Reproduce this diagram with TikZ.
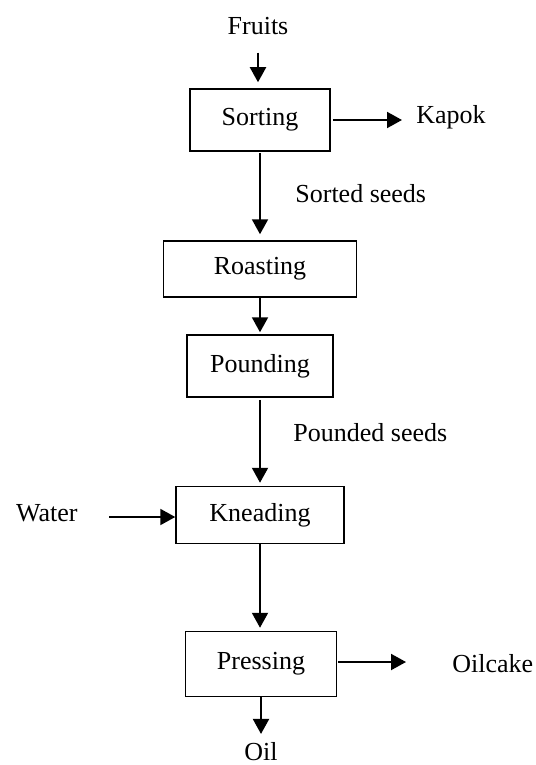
\documentclass[tikz,border=0pt]{standalone}
\usepackage{fontspec}
\setmainfont{Liberation Serif}
\usetikzlibrary{arrows.meta}

\tikzset{
  stepbox/.style={draw, line width=0.75pt, inner sep=0pt},
  label/.style={inner sep=2pt},
  arr/.style={line width=1pt, -{Triangle[length=7.5pt, width=8pt]}}
}

\begin{document}
\begin{tikzpicture}[x=0.5pt, y=-0.5pt, font=\fontsize{13}{15}\selectfont]
      \clip (0,0) rectangle (535,765);

      \node[label] (fruits) at (258,26.5) {Fruits};
      \node[stepbox, minimum width=70pt, minimum height=31pt] (sorting) at (260,120) {Sorting};
      \node[label, anchor=west] (kapok) at (412,117) {Kapok};
      \node[label, anchor=west] (sorted) at (291,194) {Sorted seeds};
      \node[stepbox, minimum width=96.5pt, minimum height=28pt] (roasting) at (260,269) {Roasting};
      \node[stepbox, minimum width=73pt, minimum height=31pt] (pounding) at (260,366) {Pounding};
      \node[label, anchor=west] (pounded) at (289,433) {Pounded seeds};
      \node[stepbox, minimum width=84pt, minimum height=28.5pt] (kneading) at (260,515) {Kneading};
      \node[label, anchor=east] (water) at (82,513) {Water};
      \node[stepbox, minimum width=75.5pt, minimum height=32.5pt] (pressing) at (261,664) {Pressing};
      \node[label, anchor=west] (oilcake) at (448,664) {Oilcake};
      \node[label] (oil) at (261,751.5) {Oil};

      \draw[arr, shorten <=6.5pt, shorten >=3pt] (fruits.south) -- (fruits.south |- sorting.north);
      \draw[arr, shorten <=1pt, shorten >=5pt] (sorting.east) -- (sorting.east -| kapok.west);
      \draw[arr, shorten <=0.5pt, shorten >=3pt] (sorting) -- (roasting);
      \draw[arr, shorten >=1pt] (roasting) -- (pounding);
      \draw[arr, shorten <=1pt, shorten >=1.5pt] (pounding) -- (kneading);
      \draw[arr, shorten <=13.5pt] (water.east |- 0,517) -- (kneading.west |- 0,517);
      \draw[arr, shorten >=1.5pt] (kneading.south) -- (kneading.south |- pressing.north);
      \draw[arr, shorten <=0.5pt, shorten >=21pt] (pressing.east |- 0,662) -- (oilcake.west |- 0,662);
      \draw[arr, shorten >=2pt] (pressing.south) -- (oil.north);
    \end{tikzpicture}
\end{document}
